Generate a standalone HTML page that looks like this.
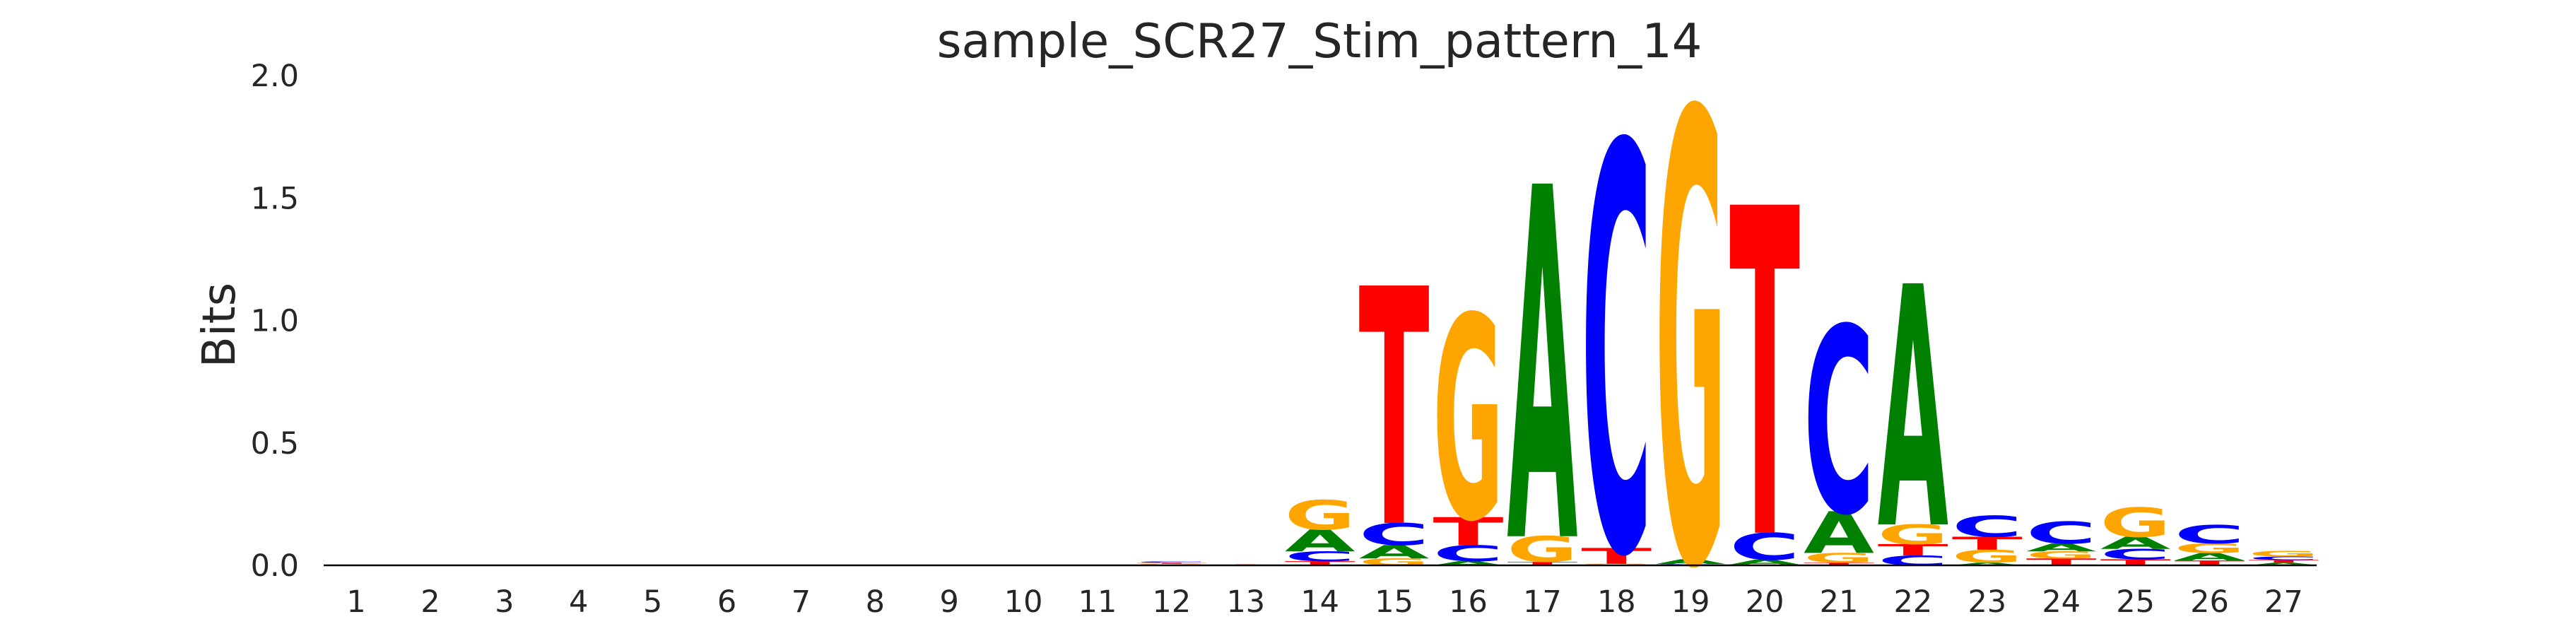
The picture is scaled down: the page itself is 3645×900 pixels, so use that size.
<!DOCTYPE html>
<html><head><meta charset="utf-8"><style>
html,body{margin:0;padding:0;background:#fff;width:3645px;height:900px;overflow:hidden;}
svg{display:block;}
text{font-family:"DejaVu Sans","Liberation Sans",sans-serif;}
</style></head><body>
<svg id="chart" width="3645" height="900" viewBox="0 0 3645 900" xmlns="http://www.w3.org/2000/svg" overflow="hidden">
<defs><clipPath id="plotclip"><rect x="400" y="0" width="3000" height="803"/></clipPath></defs>
<text x="1867" y="81" font-size="67" text-anchor="middle" fill="#262626">sample_SCR27_Stim_pattern_14</text>
<text transform="translate(332,460) rotate(-90)" font-size="64" text-anchor="middle" fill="#262626">Bits</text>
<g id="yticks"></g>
<g id="xticks"></g>
<g id="letters" clip-path="url(#plotclip)"></g>
<line x1="458" y1="800" x2="3278" y2="800" stroke="#000" stroke-width="2.5"/>
</svg>
<script>
const positions = [1,2,3,4,5,6,7,8,9,10,11,12,13,14,15,16,17,18,19,20,21,22,23,24,25,26,27];
const yTickValues = [0.0,0.5,1.0,1.5,2.0];
const yTickLabels = ["0.0","0.5","1.0","1.5","2.0"];
// bits per base at each position
const bitsA = [0,0,0,0,0,0,0,0,0,0,0,0.003,0.001,0.09,0.055,0.017,1.44,0.003,0.02,0.02,0.17,0.985,0.011,0.032,0.05,0.03,0.011];
const bitsC = [0,0,0,0,0,0,0,0,0,0,0,0.005,0.001,0.04,0.09,0.065,0.003,1.66,0.003,0.11,0.76,0.04,0.086,0.09,0.042,0.075,0.014];
const bitsG = [0,0,0,0,0,0,0,0,0,0,0,0.004,0.001,0.12,0.028,0.83,0.105,0.003,1.84,0.003,0.04,0.08,0.053,0.029,0.12,0.04,0.022];
const bitsT = [0,0,0,0,0,0,0,0,0,0,0,0.004,0.001,0.017,0.97,0.115,0.011,0.065,0.002,1.34,0.011,0.047,0.053,0.028,0.025,0.02,0.011];

const NS = "http://www.w3.org/2000/svg";
const y0 = 800, pxPerBit = 346.5;
const x1 = 504, dx = 104.9, letterW = 100;
function yScale(v){ return y0 - v*pxPerBit; }
function xScale(p){ return x1 + (p-1)*dx; }
const colors = {A:"#008000", C:"#0000ff", G:"#ffa500", T:"#ff0000"};

const yt = document.getElementById('yticks');
yTickValues.forEach((v,i)=>{
  const t = document.createElementNS(NS,'text');
  
  
  t.setAttribute('x', 423);
  t.setAttribute('y', yScale(v)+15);
  t.setAttribute('font-size', 43);
  t.setAttribute('text-anchor','end');
  t.setAttribute('fill','#262626');
  t.textContent = yTickLabels[i];
  yt.appendChild(t);
});
const xt = document.getElementById('xticks');
positions.forEach(p=>{
  const t = document.createElementNS(NS,'text');
  
  
  t.setAttribute('x', xScale(p));
  t.setAttribute('y', 866);
  t.setAttribute('font-size', 43);
  t.setAttribute('text-anchor','middle');
  t.setAttribute('fill','#262626');
  t.textContent = String(p);
  xt.appendChild(t);
});

const lg = document.getElementById('letters');
positions.forEach((p,i)=>{
  const stack = [['A',bitsA[i]],['C',bitsC[i]],['G',bitsG[i]],['T',bitsT[i]]]
    .filter(s=>s[1]>0).sort((a,b)=>a[1]-b[1]);
  let cum = 0;
  stack.forEach(([b,v])=>{
    const yb = yScale(cum), yt2 = yScale(cum+v);
    const h = yb - yt2;
    cum += v;
    if (h < 0.3) return;
    const t = document.createElementNS(NS,'text');
    
    
    t.setAttribute('x',0);
    t.setAttribute('y',0);
    t.setAttribute('font-size',100);
    t.setAttribute('font-weight','bold');
    t.setAttribute('textLength',100);
    t.setAttribute('lengthAdjust','spacingAndGlyphs');
    t.setAttribute('fill',colors[b]);
    const sx = letterW/100, sy = h/72.9;
    t.setAttribute('transform','translate('+(xScale(p)-letterW/2)+','+yb+') scale('+sx+','+sy+')');
    t.textContent = b;
    lg.appendChild(t);
  });
});
</script>
</body></html>
